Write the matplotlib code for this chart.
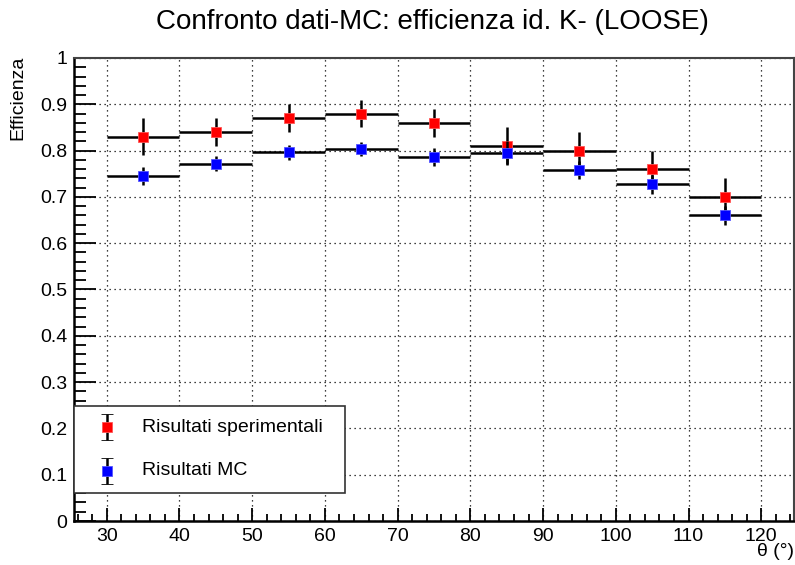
import matplotlib
matplotlib.use("Agg")
import matplotlib.pyplot as plt
from matplotlib.patches import Rectangle
from matplotlib.ticker import MultipleLocator, FuncFormatter

plt.rcParams['font.family'] = ['Liberation Sans', 'DejaVu Sans']

# Data
theta = [35, 45, 55, 65, 75, 85, 95, 105, 115]
theta_err = [5, 5, 5, 5, 5, 5, 5, 5, 5]
eff_data = [0.83, 0.84, 0.87, 0.88, 0.86, 0.81, 0.80, 0.76, 0.70]
eff_data_err = [0.04, 0.03, 0.03, 0.03, 0.03, 0.04, 0.04, 0.04, 0.04]
eff_mc = [0.745, 0.772, 0.796, 0.804, 0.786, 0.795, 0.758, 0.727, 0.66]
eff_mc_err = [0.02, 0.017, 0.017, 0.015, 0.02, 0.026, 0.02, 0.02, 0.02]
labels = ["Risultati sperimentali", "Risultati MC"]

W, H = 795, 565
fig = plt.figure(figsize=(W / 100, H / 100), dpi=100)
ax = fig.add_axes([74 / W, 1 - 521 / H, 720 / W, 463 / H])

ax.set_xlim(25.5, 124.5)
ax.set_ylim(0, 1)

ax.xaxis.set_major_locator(MultipleLocator(10))
ax.xaxis.set_minor_locator(MultipleLocator(2))
ax.yaxis.set_major_locator(MultipleLocator(0.1))
ax.yaxis.set_minor_locator(MultipleLocator(0.02))
ax.yaxis.set_major_formatter(FuncFormatter(lambda v, p: "%g" % round(v, 2)))

ax.grid(True, which='major', color='black', linestyle=(0, (1, 3)), linewidth=0.9)
ax.set_axisbelow(True)

ax.tick_params(axis='both', which='both', direction='in', labelsize=14, width=1.3, color='black')
ax.tick_params(axis='x', which='major', length=9.5, pad=5)
ax.tick_params(axis='x', which='minor', length=5)
ax.tick_params(axis='y', which='major', length=15.8, pad=5)
ax.tick_params(axis='y', which='minor', length=8.3)
ax.tick_params(top=False, right=False)

for s in ['left', 'bottom']:
    ax.spines[s].set_linewidth(1.8)
    ax.spines[s].set_color('black')
for s in ['top', 'right']:
    ax.spines[s].set_linewidth(1.5)
    ax.spines[s].set_color('#444444')

ax.errorbar(theta, eff_data, xerr=theta_err, yerr=eff_data_err, fmt='s', color='red',
            markersize=7, markeredgewidth=0.6, markeredgecolor='#ff5555', ecolor='black',
            elinewidth=1.8, capsize=0, zorder=3)
ax.errorbar(theta, eff_mc, xerr=theta_err, yerr=eff_mc_err, fmt='s', color='blue',
            markersize=7, markeredgewidth=0.6, markeredgecolor='#5555ff', ecolor='black',
            elinewidth=1.8, capsize=0, zorder=4)

# Legend (ROOT style)
ax.add_patch(Rectangle((0, 0.0605), 0.376, 0.1875, transform=ax.transAxes,
                       facecolor='white', edgecolor='#333333', linewidth=1.2,
                       zorder=10, clip_on=False))
lx, ltx = 0.0458, 0.0944
for ly, col, ecol, lab in [(0.203, 'red', '#ff5555', labels[0]), (0.108, 'blue', '#5555ff', labels[1])]:
    ax.errorbar([lx], [ly], yerr=[0.029], fmt='s', color=col, markersize=7,
                markeredgewidth=0.6, markeredgecolor=ecol, ecolor='black',
                elinewidth=1.8, capsize=4, capthick=1.8, transform=ax.transAxes,
                zorder=11, clip_on=False)
    ax.text(ltx, ly, lab, transform=ax.transAxes, fontsize=14, va='center',
            ha='left', zorder=12)

fig.text(432.5 / W, 1 - 22 / H, "Confronto dati-MC: efficienza id. K- (LOOSE)",
         fontsize=20, ha='center', va='center')
fig.text(18 / W, 1 - 56 / H, "Efficienza", rotation=90, fontsize=14, ha='center', va='top')
fig.text(794 / W, 1 - 551 / H, "θ (°)", fontsize=14, ha='right', va='center')

fig.savefig("out.png", dpi=100)
